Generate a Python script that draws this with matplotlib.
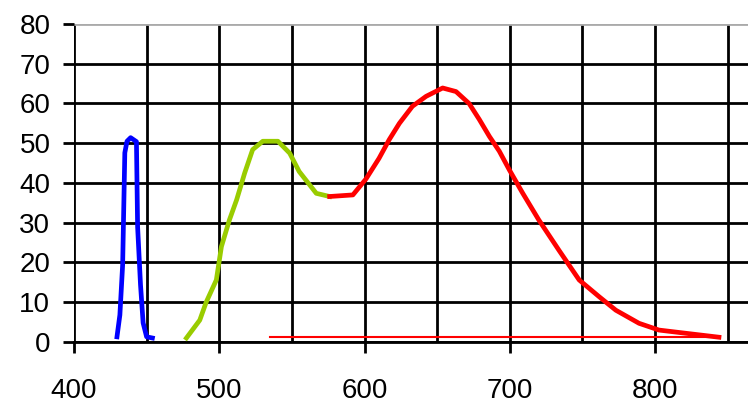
import matplotlib
matplotlib.use('Agg')
from matplotlib import pyplot as plt

blue_x = [429.6, 431.6, 433.5, 435.0, 436.5, 439.0, 443.0, 443.8, 445.8, 447.6, 450.0, 454.0]
blue_y = [1.3, 6.8, 19.4, 47.6, 50.5, 51.4, 50.4, 29.0, 14.4, 4.8, 1.3, 1.0]

green_x = [477.4, 486.6, 491.0, 498.0, 501.5, 507.0, 512.0, 517.5, 523.0, 530.0, 540.4,
           548.5, 555.0, 566.8, 576.0]
green_y = [1.0, 5.5, 10.0, 15.6, 24.0, 30.7, 35.8, 42.5, 48.4, 50.5, 50.5,
           47.5, 42.9, 37.4, 36.6]

red_x = [576.0, 592.0, 601.0, 610.0, 617.0, 624.0, 633.0, 642.4, 653.8, 663.0, 672.0,
         679.0, 686.0, 692.8, 699.7, 708.8, 720.0, 734.0, 747.8, 761.5, 773.0, 789.0,
         802.7, 821.0, 844.0]
red_y = [36.6, 37.0, 41.0, 46.2, 50.9, 55.0, 59.3, 61.8, 63.9, 63.0, 60.0,
         56.0, 51.7, 48.0, 43.3, 37.5, 30.7, 23.0, 15.6, 11.4, 8.0, 4.7,
         3.0, 2.2, 1.2]

base_x = [534.7, 844.0]
base_y = [1.2, 1.2]

x_ticks = [400, 500, 600, 700, 800]
x_grid = [450, 550, 650, 750, 850]
y_ticks = [0, 10, 20, 30, 40, 50, 60, 70, 80]

plt.rcParams['font.family'] = ['Liberation Sans', 'DejaVu Sans']

fig = plt.figure(figsize=(7.48, 4.08), dpi=100)
ax = fig.add_axes([0.0989, 0.1618, 0.9011, 0.7794])

ax.plot(blue_x, blue_y, color='#0000ff', lw=3.4, zorder=3)
ax.plot(green_x, green_y, color='#99cc00', lw=3.4, zorder=3)
ax.plot(red_x, red_y, color='#ff0000', lw=3.4, zorder=3)
ax.plot(base_x, base_y, color='#ff0000', lw=1.5, zorder=3)

ax.set_xlim(400, 864)
ax.set_ylim(0, 80)

ax.set_xticks(x_ticks)
ax.set_xticks(x_grid, minor=True)
ax.set_yticks(y_ticks)
ax.tick_params(axis='x', which='major', length=8, width=2, color='black',
               pad=18, labelsize=20, direction='out')
ax.tick_params(axis='x', which='minor', length=0)
ax.tick_params(axis='y', length=8, width=2, color='black', pad=9,
               labelsize=20, direction='out')

ax.grid(True, which='both', axis='x', color='black', lw=2)
ax.grid(True, which='major', axis='y', color='black', lw=2)
ax.yaxis.get_gridlines()[-1].set_color('#aaaaaa')

for s in ['top', 'right', 'left']:
    ax.spines[s].set_visible(False)
ax.spines['bottom'].set_color('black')
ax.spines['bottom'].set_linewidth(2)
ax.set_axisbelow(True)

fig.savefig('out.png', dpi=100)
